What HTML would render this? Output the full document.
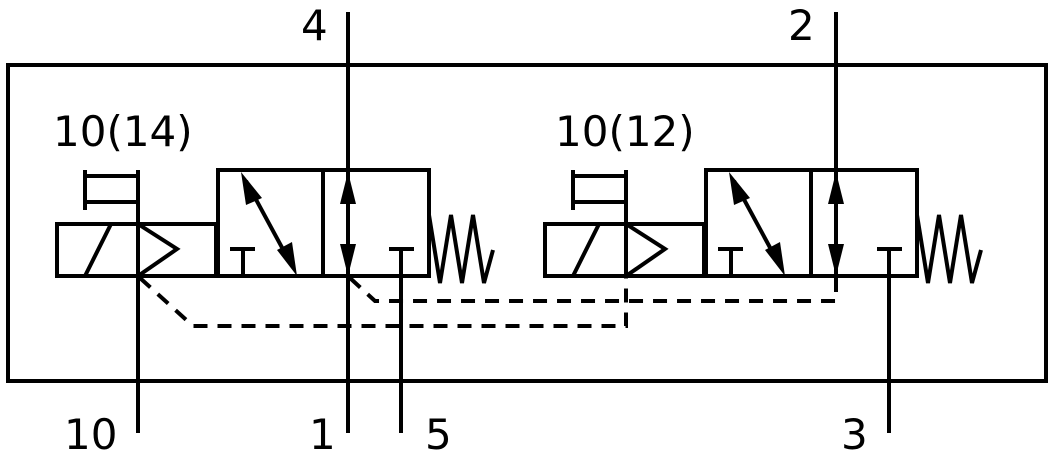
<!DOCTYPE html>
<html><head><meta charset="utf-8"><style>html,body{margin:0;padding:0;background:#fff}svg{display:block}</style></head>
<body>
<svg width="1056" height="451" viewBox="0 0 1056 451" xmlns="http://www.w3.org/2000/svg">
<defs>
<g id="unit" fill="none" stroke="#000" stroke-width="4">
  <rect x="57" y="224" width="159" height="52"/>
  <line x1="85" y1="276" x2="111" y2="224"/>
  <polyline points="138,224 177,249 138,276"/>
  <line x1="85" y1="170" x2="85" y2="210"/>
  <line x1="85" y1="176" x2="138" y2="176"/>
  <line x1="85" y1="202" x2="138" y2="202"/>
  <line x1="138" y1="170" x2="138" y2="276"/>
  <rect x="218" y="170" width="211" height="106"/>
  <line x1="323" y1="170" x2="323" y2="276"/>
  <line x1="230" y1="249" x2="255" y2="249"/>
  <line x1="243" y1="249" x2="243" y2="276"/>
  <line x1="389" y1="249" x2="414" y2="249"/>
  <line x1="246" y1="181" x2="292" y2="266"/>
  <line x1="348" y1="185" x2="348" y2="262"/>
  <polyline points="429,249 429,215 440,283 451,215 462,283 473,215 484,283 493,250"/>
</g>
<g id="heads" fill="#000" stroke="none">
  <polygon points="241,172 262,198 246,205"/>
  <polygon points="297,276 277,250 292,242"/>
  <polygon points="348,172 340,204 356,204"/>
  <polygon points="348,276 340,244 356,244"/>
</g>
</defs>
<rect x="8" y="65" width="1038" height="316" fill="none" stroke="#000" stroke-width="4"/>
<use href="#unit"/><use href="#heads"/>
<g transform="translate(488,0)"><use href="#unit"/><use href="#heads"/></g>
<g stroke="#000" stroke-width="4" fill="none">
  <line x1="348" y1="12" x2="348" y2="433"/>
  <line x1="836" y1="12" x2="836" y2="276"/>
  <line x1="138" y1="276" x2="138" y2="433"/>
  <line x1="401" y1="249" x2="401" y2="433"/>
  <line x1="889" y1="249" x2="889" y2="433"/>
</g>
<g stroke="#000" stroke-width="4" fill="none" stroke-dasharray="14,10">
  <polyline points="140,278 193,326 626,326 626,276"/>
  <polyline points="350,278 375,301 836,301 836,278"/>
</g>
<g font-family="DejaVu Sans, Liberation Sans, sans-serif" font-size="42" fill="#000">
  <text x="301" y="40">4</text>
  <text x="788" y="40">2</text>
  <text x="53" y="146">10(14)</text>
  <text x="555" y="146">10(12)</text>
  <text x="64" y="449">10</text>
  <text x="309" y="449">1</text>
  <text x="425" y="449">5</text>
  <text x="841" y="449">3</text>
</g>
</svg>
</body></html>
